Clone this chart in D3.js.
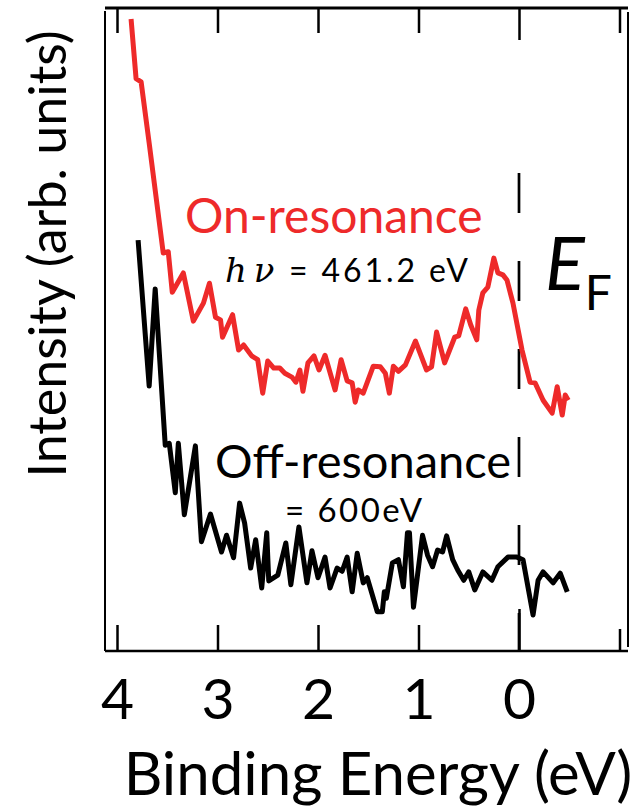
<!DOCTYPE html>
<html lang="en">
<head>
<meta charset="UTF-8">
<title>On/Off resonance photoemission</title>
<script src="https://d3js.org/d3.v7.min.js"></script>
<style>
  body { margin: 0; background: #fff; }
  svg { display: block; font-family: Lato, "Open Sans", sans-serif; }
  .frame { stroke: #000; fill: none; }
</style>
</head>
<body>
<svg width="634" height="809"></svg>
<script>
// binding energy (eV) and intensity (arb. units)
const onEnergy = [3.86, 3.81, 3.76, 3.68, 3.54, 3.49, 3.45, 3.34, 3.24, 3.14, 3.08, 3.02, 2.97, 2.95, 2.85,
  2.79, 2.74, 2.66, 2.60, 2.55, 2.50, 2.44, 2.38, 2.33, 2.26, 2.22, 2.18, 2.15, 2.10, 2.04, 1.99, 1.93,
  1.83, 1.77, 1.71, 1.66, 1.63, 1.60, 1.55, 1.45, 1.38, 1.33, 1.29, 1.25, 1.20, 1.13, 1.03, 0.92, 0.87,
  0.82, 0.74, 0.64, 0.60, 0.53, 0.48, 0.42, 0.40, 0.36, 0.31, 0.25, 0.21, 0.16, 0.12, 0.06, -0.03,
  -0.11, -0.16, -0.24, -0.33, -0.38, -0.43, -0.46, -0.49];
const onIntensity = [98.3, 89.0, 88.5, 79.0, 61.9, 62.1, 55.8, 58.8, 51.3, 54.1, 57.2, 51.9, 51.5, 48.8, 52.3,
  46.8, 47.6, 45.9, 45.3, 40.1, 45.1, 44.0, 44.0, 43.2, 42.6, 41.8, 43.7, 40.4, 44.8, 45.9, 43.7, 46.0,
  40.6, 45.3, 42.0, 41.7, 38.7, 40.6, 40.1, 44.3, 44.2, 43.2, 40.1, 44.3, 43.5, 44.5, 48.2, 43.7, 44.2,
  49.6, 44.8, 48.8, 49.0, 53.2, 50.7, 48.4, 53.0, 55.7, 56.6, 61.1, 58.8, 58.5, 57.7, 54.1, 46.8,
  41.8, 41.7, 39.0, 37.0, 41.1, 36.7, 39.8, 39.0];

const offEnergy = [3.79, 3.68, 3.62, 3.52, 3.48, 3.42, 3.39, 3.33, 3.22, 3.16, 3.07, 2.96, 2.91, 2.84, 2.78,
  2.73, 2.67, 2.62, 2.56, 2.51, 2.49, 2.40, 2.32, 2.27, 2.19, 2.11, 2.06, 2.00, 1.93, 1.88, 1.81, 1.76,
  1.71, 1.66, 1.61, 1.55, 1.51, 1.41, 1.36, 1.34, 1.32, 1.26, 1.20, 1.15, 1.11, 1.09, 1.05, 0.96, 0.91,
  0.86, 0.81, 0.76, 0.72, 0.66, 0.61, 0.55, 0.50, 0.44, 0.36, 0.27, 0.21, 0.11, 0.02, -0.04, -0.14,
  -0.19, -0.24, -0.34, -0.41, -0.48];
const offIntensity = [63.9, 41.2, 56.3, 32.0, 32.3, 24.6, 32.3, 21.2, 31.9, 17.0, 21.3, 15.4, 18.0, 14.5, 23.0,
  19.9, 12.9, 17.3, 9.8, 18.4, 10.9, 11.8, 16.8, 10.3, 19.3, 10.6, 15.6, 11.4, 14.6, 9.8, 12.9, 12.4,
  14.6, 9.2, 15.2, 10.6, 11.4, 6.1, 6.1, 9.2, 8.2, 13.7, 14.2, 10.0, 18.4, 18.4, 6.8, 18.0, 14.9,
  13.1, 15.7, 15.4, 17.9, 14.2, 12.6, 11.0, 12.3, 9.5, 12.3, 11.0, 13.1, 14.6, 14.6, 14.2, 5.6,
  11.0, 12.3, 10.6, 12.1, 9.2];

const tickValues = [4, 3, 2, 1, 0, -1];
const tickLabels = ["4", "3", "2", "1", "0", ""];

const svg = d3.select("svg");

// scales: binding energy increases to the left
const x = d3.scaleLinear().domain([4, -1]).range([117, 619.5]);
const y = d3.scaleLinear().domain([0, 100]).range([651, 8]);

// frame
const frameL = 105, frameR = 628, frameT = 8, frameB = 651;
svg.append("line").attr("class", "frame").attr("x1", frameL).attr("x2", frameR)
  .attr("y1", frameT).attr("y2", frameT).attr("stroke-width", 3);
svg.append("line").attr("class", "frame").attr("x1", frameL).attr("x2", frameR)
  .attr("y1", frameB).attr("y2", frameB).attr("stroke-width", 2.5);
svg.append("line").attr("class", "frame").attr("x1", frameL).attr("x2", frameL)
  .attr("y1", 11).attr("y2", frameB).attr("stroke-width", 2).attr("stroke", "#222");
svg.append("line").attr("class", "frame").attr("x1", frameR).attr("x2", frameR)
  .attr("y1", 12).attr("y2", 647).attr("stroke-width", 2).attr("stroke", "#222");

// top ticks (inward)
const topAxis = svg.append("g")
  .attr("transform", `translate(0,${frameT})`)
  .call(d3.axisTop(x).tickValues(tickValues).tickSize(-25).tickFormat(""));
topAxis.select(".domain").remove();
topAxis.selectAll(".tick line").attr("stroke-width", 2.5)
  .attr("y2", d => d === 0 ? 32 : 25);

// bottom ticks (inward) with labels
const bottomAxis = svg.append("g")
  .attr("transform", `translate(0,${frameB})`)
  .call(d3.axisBottom(x).tickValues(tickValues).tickSize(-26).tickPadding(28)
    .tickFormat((d, i) => tickLabels[i]));
bottomAxis.select(".domain").remove();
bottomAxis.selectAll(".tick line").attr("stroke-width", 2.5)
  .attr("y2", d => d === 0 ? -42 : (d === -1 ? -22 : -26));
bottomAxis.selectAll(".tick text")
  .attr("font-family", "Lato, 'Open Sans', sans-serif")
  .attr("font-size", 57).attr("fill", "#000");

// Fermi level marker
svg.append("line")
  .attr("x1", x(0)).attr("x2", x(0))
  .attr("y1", 173).attr("y2", frameB)
  .attr("stroke", "#000").attr("stroke-width", 2.7)
  .attr("stroke-dasharray", "40,48");

// spectra
const line = d3.line().x(d => x(d[0])).y(d => y(d[1]));

svg.append("path")
  .datum(d3.zip(onEnergy, onIntensity))
  .attr("d", line)
  .attr("fill", "none").attr("stroke", "#ee2a2a")
  .attr("stroke-width", 5).attr("stroke-linejoin", "round");

svg.append("path")
  .datum(d3.zip(offEnergy, offIntensity))
  .attr("d", line)
  .attr("fill", "none").attr("stroke", "#000")
  .attr("stroke-width", 5).attr("stroke-linejoin", "round");

// annotations
svg.append("text").attr("x", 185).attr("y", 233)
  .attr("font-size", 48).attr("fill", "#ee2a2a").text("On-resonance");

svg.append("text").attr("x", 225).attr("y", 282)
  .attr("font-size", 34).attr("font-style", "italic")
  .attr("font-family", "'DejaVu Serif', serif").text("h\u2009\u03BD");
svg.append("text").attr("x", 289).attr("y", 282)
  .attr("font-size", 32).attr("textLength", 179).attr("lengthAdjust", "spacing")
  .text("= 461.2 eV");

svg.append("text").attr("x", 215).attr("y", 478)
  .attr("font-size", 47).attr("fill", "#000").text("Off-resonance");
svg.append("text").attr("x", 285).attr("y", 522)
  .attr("font-size", 33).attr("textLength", 137).attr("lengthAdjust", "spacing")
  .text("= 600eV");

const ef = svg.append("text").attr("x", 545).attr("y", 290).attr("fill", "#000");
ef.append("tspan").attr("font-size", 74).attr("font-style", "italic").text("E");
ef.append("tspan").attr("font-size", 48).attr("dy", 20).text("F");

// axis titles
svg.append("text")
  .attr("x", 378).attr("y", 795)
  .attr("text-anchor", "middle").attr("font-size", 60)
  .text("Binding Energy (eV)");

svg.append("text")
  .attr("transform", "translate(66,254) rotate(-90)")
  .attr("text-anchor", "middle").attr("font-size", 52)
  .text("Intensity (arb. units)");
</script>
</body>
</html>
